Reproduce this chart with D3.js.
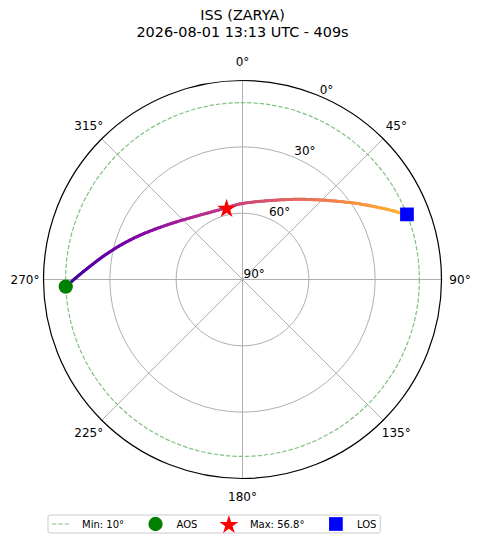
<!DOCTYPE html>
<html>
<head>
<meta charset="utf-8">
<script src="https://cdn.jsdelivr.net/npm/d3@7"></script>
<style>
  body { margin: 0; background: #fff; }
  svg { font-family: "DejaVu Sans", sans-serif; }
</style>
</head>
<body>
<div id="chart"></div>
<script>
// pass samples (azimuth deg, elevation deg)
var passAz = [267.7, 272.8, 281.9, 292.0, 305.7, 324.2, 347.5, 358.1, 19.2, 35.6, 48.0, 57.3, 64.0, 67.4, 68.4];
var passEl = [10.0, 17.9, 28.8, 38.4, 47.8, 54.6, 56.8, 55.8, 52.2, 45.4, 36.7, 26.8, 17.5, 12.0, 10.0];
var maxIndex = 6;

var titleLines = ["ISS (ZARYA)", "2026-08-01 13:13 UTC - 409s"];
var azTicks = [0, 45, 90, 135, 180, 225, 270, 315];
var elTicks = [0, 30, 60, 90];
var elGrid = [30, 60];
var minEl = 10;
var legendLabels = ["Min: " + minEl + "°", "AOS", "Max: 56.8°", "LOS"];

var W = 480, H = 543;
var cx = 242.5, cy = 279.5, R = 199;

var svg = d3.select("#chart").append("svg")
  .attr("width", W)
  .attr("height", H);

var r = d3.scaleLinear().domain([90, 0]).range([0, R]);
var rad = function(az) { return az * Math.PI / 180; };
var px = function(az, el) { return cx + r(el) * Math.sin(rad(az)); };
var py = function(az, el) { return cy - r(el) * Math.cos(rad(az)); };

// title
svg.selectAll("text.title")
  .data(titleLines)
  .enter()
  .append("text")
  .attr("class", "title")
  .attr("x", cx)
  .attr("y", function(d, i) { return 20 + i * 16.8; })
  .attr("text-anchor", "middle")
  .attr("font-size", "14.4px")
  .attr("fill", "#000")
  .text(function(d) { return d; });

var g = svg.append("g");

// grid rings
g.selectAll("circle.grid")
  .data(elGrid)
  .enter()
  .append("circle")
  .attr("cx", cx)
  .attr("cy", cy)
  .attr("r", function(d) { return r(d); })
  .attr("fill", "none")
  .attr("stroke", "#b0b0b0")
  .attr("stroke-width", 1);

// spokes
g.selectAll("line.spoke")
  .data(azTicks)
  .enter()
  .append("line")
  .attr("x1", cx)
  .attr("y1", cy)
  .attr("x2", function(d) { return px(d, 0); })
  .attr("y2", function(d) { return py(d, 0); })
  .attr("stroke", "#b0b0b0")
  .attr("stroke-width", 1);

// min elevation
g.append("circle")
  .attr("cx", cx)
  .attr("cy", cy)
  .attr("r", r(minEl))
  .attr("fill", "none")
  .attr("stroke", "#80c080")
  .attr("stroke-width", 1.2)
  .attr("stroke-dasharray", "4.4,1.9");

// outer frame
g.append("circle")
  .attr("cx", cx)
  .attr("cy", cy)
  .attr("r", r(0))
  .attr("fill", "none")
  .attr("stroke", "#000")
  .attr("stroke-width", 1.2);

// azimuth labels
g.selectAll("text.az")
  .data(azTicks)
  .enter()
  .append("text")
  .attr("x", function(d) { return cx + (R + 18.5) * Math.sin(rad(d)); })
  .attr("y", function(d) { return cy - (R + 18.5) * Math.cos(rad(d)); })
  .attr("text-anchor", "middle")
  .attr("dominant-baseline", "central")
  .attr("font-size", "12px")
  .text(function(d) { return d + "°"; });

// elevation labels
g.selectAll("text.el")
  .data(elTicks)
  .enter()
  .append("text")
  .attr("x", function(d) { return px(22.5, d) + 1; })
  .attr("y", function(d) { return py(22.5, d) - 2; })
  .attr("font-size", "12px")
  .text(function(d) { return d + "°"; });

// track, coloured along the pass
var pts = passAz.map(function(a, i) { return [px(a, passEl[i]), py(a, passEl[i])]; });
var guide = g.append("path")
  .attr("d", d3.line().curve(d3.curveCatmullRom)(pts))
  .attr("fill", "none")
  .attr("stroke", "none");
var node = guide.node();
var total = node.getTotalLength();
var n = 200;
var samples = d3.range(n + 1).map(function(i) {
  var p = node.getPointAtLength(total * i / n);
  return [p.x, p.y];
});
var color = function(t) { return d3.interpolatePlasma(0.08 + t * 0.77); };
g.selectAll("line.track")
  .data(d3.range(n))
  .enter()
  .append("line")
  .attr("x1", function(i) { return samples[i][0]; })
  .attr("y1", function(i) { return samples[i][1]; })
  .attr("x2", function(i) { return samples[i + 1][0]; })
  .attr("y2", function(i) { return samples[i + 1][1]; })
  .attr("stroke", function(i) { return color(i / n); })
  .attr("stroke-width", 3)
  .attr("stroke-linecap", "round");

var last = passAz.length - 1;
var star = d3.symbol().type(d3.symbolStar).size(112);
var square = d3.symbol().type(d3.symbolSquare).size(188);
var disc = d3.symbol().type(d3.symbolCircle).size(160);

g.append("path")
  .attr("d", disc())
  .attr("transform", "translate(" + pts[0][0] + "," + pts[0][1] + ")")
  .attr("fill", "#008000");
g.append("path")
  .attr("d", star())
  .attr("transform", "translate(" + pts[maxIndex][0] + "," + (pts[maxIndex][1] + 1) + ")")
  .attr("fill", "#ff0000");
g.append("path")
  .attr("d", square())
  .attr("transform", "translate(" + pts[last][0] + "," + pts[last][1] + ")")
  .attr("fill", "#0000ff");

// legend
var leg = svg.append("g");
var box = leg.append("rect")
  .attr("x", 48)
  .attr("y", 515)
  .attr("height", 18)
  .attr("rx", 2)
  .attr("fill", "#fff")
  .attr("fill-opacity", 0.8)
  .attr("stroke", "#cccccc")
  .attr("stroke-width", 1);

var ly = 524, lx = 52;
legendLabels.forEach(function(lab, i) {
  var hc = lx + 9;
  if (i == 0) {
    leg.append("line")
      .attr("x1", lx).attr("x2", lx + 18)
      .attr("y1", ly).attr("y2", ly)
      .attr("stroke", "#80c080")
      .attr("stroke-width", 1.2)
      .attr("stroke-dasharray", "4.4,1.9");
  } else {
    var sym = [null, disc, star, square][i];
    var col = [null, "#008000", "#ff0000", "#0000ff"][i];
    leg.append("path")
      .attr("d", sym())
      .attr("transform", "translate(" + hc + "," + (ly + (i == 2 ? 1 : 0)) + ")")
      .attr("fill", col);
  }
  var t = leg.append("text")
    .attr("x", lx + 30)
    .attr("y", ly)
    .attr("dominant-baseline", "central")
    .attr("font-size", "10px")
    .text(lab);
  lx = lx + 30 + t.node().getComputedTextLength() + 22.5;
});
box.attr("width", lx - 22.5 + 4 - 48);
</script>
</body>
</html>
